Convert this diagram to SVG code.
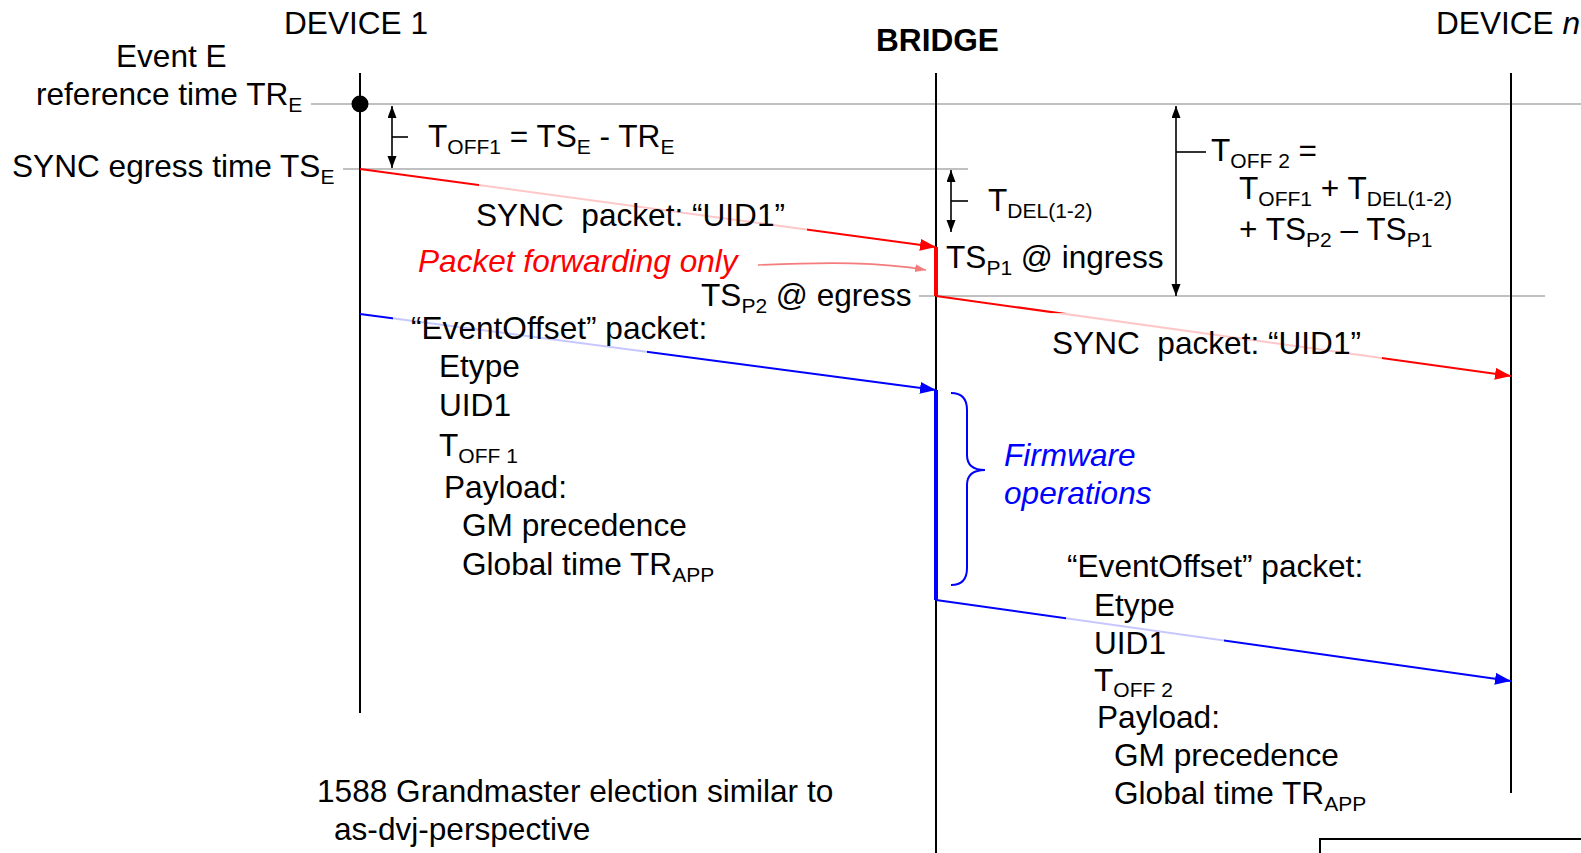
<svg xmlns="http://www.w3.org/2000/svg" width="1581" height="853" viewBox="0 0 1581 853">
<defs>
<style>
text{font-family:"Liberation Sans",Arial,sans-serif;font-size:31.6px;fill:#000}
.b{font-weight:bold}
.sub{font-size:21px}
.red{fill:#ff0000;font-style:italic}
.blue{fill:#0000ff;font-style:italic}
.life{stroke:#000;stroke-width:2;fill:none}
.grid{stroke:#c0c0c0;stroke-width:2;fill:none}
.dim{stroke:#000;stroke-width:1.6;fill:none}
.rl{stroke:#ff0000;stroke-width:2;fill:none}
.bl{stroke:#0000ff;stroke-width:2;fill:none}
.veil{fill:#ffffff;fill-opacity:0.78}
</style>
<marker id="ar" markerUnits="userSpaceOnUse" markerWidth="18" markerHeight="14" refX="16" refY="6" orient="auto"><path d="M0,0 L16,6 L0,12 z" fill="#ff0000"/></marker>
<marker id="ab" markerUnits="userSpaceOnUse" markerWidth="18" markerHeight="14" refX="16" refY="6" orient="auto"><path d="M0,0 L16,6 L0,12 z" fill="#0000ff"/></marker>
<marker id="ak" markerUnits="userSpaceOnUse" markerWidth="14" markerHeight="10" refX="12" refY="4.5" orient="auto-start-reverse"><path d="M0,0 L12,4.5 L0,9 z" fill="#000"/></marker>
<marker id="ap" markerUnits="userSpaceOnUse" markerWidth="12" markerHeight="10" refX="11" refY="4" orient="auto"><path d="M0,0 L11,4 L0,8 z" fill="#f47c7c"/></marker>
</defs>
<rect width="1581" height="853" fill="#fff"/>

<g id="grid-lines">
<line class="grid" x1="311" y1="104" x2="1581" y2="104"/>
<line class="grid" x1="343" y1="169" x2="968" y2="169"/>
<line class="grid" x1="919" y1="296" x2="1545" y2="296"/>
</g>

<g id="device1">
<text x="284" y="34">DEVICE 1</text>
<line class="life" x1="360" y1="73" x2="360" y2="713"/>
<circle cx="360" cy="104" r="8.5" fill="#000"/>
</g>

<g id="bridge">
<text class="b" x="876" y="51">BRIDGE</text>
<line class="life" x1="936" y1="73" x2="936" y2="853"/>
</g>

<g id="devicen">
<text x="1436" y="34">DEVICE <tspan font-style="italic">n</tspan></text>
<line class="life" x1="1511" y1="73" x2="1511" y2="793"/>
</g>

<g id="connectors">
<line class="rl" x1="360" y1="169" x2="936" y2="247" marker-end="url(#ar)"/>
<line x1="936" y1="247" x2="936" y2="296" stroke="#ff0000" stroke-width="4"/>
<line class="rl" x1="936" y1="296" x2="1511" y2="376" marker-end="url(#ar)"/>
<line class="bl" x1="360" y1="314" x2="936" y2="390" marker-end="url(#ab)"/>
<line x1="936" y1="390" x2="936" y2="600" stroke="#0000ff" stroke-width="4"/>
<line class="bl" x1="936" y1="600" x2="1511" y2="681" marker-end="url(#ab)"/>
<path d="M758,265 C830,262 880,262 926,270" stroke="#f47c7c" stroke-width="1.6" fill="none" marker-end="url(#ap)"/>
<line class="dim" x1="392" y1="106" x2="392" y2="168" marker-start="url(#ak)" marker-end="url(#ak)"/>
<line class="dim" x1="392" y1="137" x2="408" y2="137"/>
<line class="dim" x1="951" y1="170" x2="951" y2="232" marker-start="url(#ak)" marker-end="url(#ak)"/>
<line class="dim" x1="951" y1="201" x2="968" y2="201"/>
<line class="dim" x1="1176" y1="106" x2="1176" y2="296" marker-start="url(#ak)" marker-end="url(#ak)"/>
<line class="dim" x1="1176" y1="152" x2="1206" y2="152"/>
<path d="M951,393 Q967,393 967,410 L967,455 Q967,470 985,470 Q967,470 967,485 L967,568 Q967,585 951,585" stroke="#0000ff" stroke-width="2" fill="none"/>
</g>

<g id="label-veils">
<rect class="veil" x="479" y="183" width="328" height="54"/>
<rect class="veil" x="393" y="312" width="254" height="62"/>
<rect class="veil" x="1034" y="313" width="348" height="52"/>
<rect class="veil" x="1066" y="596" width="158" height="62"/>
</g>

<g id="event-labels">
<text x="116" y="67">Event E</text>
<text x="36" y="105">reference time TR<tspan class="sub" dy="7">E</tspan></text>
<text x="12" y="177">SYNC egress time TS<tspan class="sub" dy="7">E</tspan></text>
<text x="428" y="147">T<tspan class="sub" dy="7">OFF1</tspan><tspan dy="-7"> = TS</tspan><tspan class="sub" dy="7">E</tspan><tspan dy="-7"> - TR</tspan><tspan class="sub" dy="7">E</tspan></text>
</g>

<g id="sync-labels">
<text x="476" y="226" xml:space="preserve">SYNC  packet: “UID1”</text>
<text class="red" x="418" y="272">Packet forwarding only</text>
<text x="1052" y="354" xml:space="preserve">SYNC  packet: “UID1”</text>
</g>

<g id="bridge-labels">
<text x="988" y="211">T<tspan class="sub" dy="7">DEL(1-2)</tspan></text>
<text x="946" y="268">TS<tspan class="sub" dy="7">P1</tspan><tspan dy="-7"> @ ingress</tspan></text>
<text x="701" y="306">TS<tspan class="sub" dy="7">P2</tspan><tspan dy="-7"> @ egress</tspan></text>
<text x="1211" y="161">T<tspan class="sub" dy="7">OFF 2</tspan><tspan dy="-7"> =</tspan></text>
<text x="1239" y="199">T<tspan class="sub" dy="7">OFF1</tspan><tspan dy="-7"> + T</tspan><tspan class="sub" dy="7">DEL(1-2)</tspan></text>
<text x="1239" y="240">+ TS<tspan class="sub" dy="7">P2</tspan><tspan dy="-7"> – TS</tspan><tspan class="sub" dy="7">P1</tspan></text>
<text class="blue" x="1004" y="466">Firmware</text>
<text class="blue" x="1004" y="504">operations</text>
</g>

<g id="eventoffset-1">
<text x="411" y="339">“EventOffset” packet:</text>
<text x="439" y="377">Etype</text>
<text x="439" y="416">UID1</text>
<text x="439" y="456">T<tspan class="sub" dy="7">OFF 1</tspan></text>
<text x="444" y="498">Payload:</text>
<text x="462" y="536">GM precedence</text>
<text x="462" y="575">Global time TR<tspan class="sub" dy="7">APP</tspan></text>
</g>

<g id="eventoffset-2">
<text x="1067" y="577">“EventOffset” packet:</text>
<text x="1094" y="616">Etype</text>
<text x="1094" y="654">UID1</text>
<text x="1094" y="691">T<tspan class="sub" dy="6">OFF 2</tspan></text>
<text x="1097" y="728">Payload:</text>
<text x="1114" y="766">GM precedence</text>
<text x="1114" y="804">Global time TR<tspan class="sub" dy="7">APP</tspan></text>
</g>

<g id="note">
<text x="317" y="802">1588 Grandmaster election similar to</text>
<text x="334" y="840">as-dvj-perspective</text>
</g>

<g id="corner-box">
<rect x="1320" y="839" width="280" height="40" fill="none" stroke="#000" stroke-width="2"/>
</g>
</svg>
